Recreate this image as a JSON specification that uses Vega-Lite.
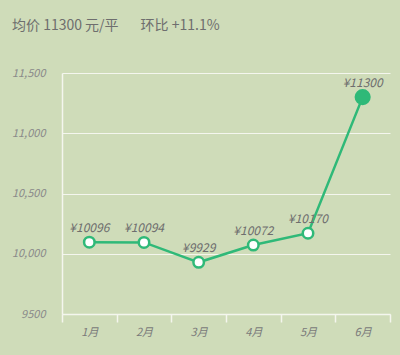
{
  "$schema": "https://vega.github.io/schema/vega-lite/v6.json",
  "autosize": "none",
  "width": 328,
  "height": 241,
  "padding": {"left": 62, "top": 73, "right": 10, "bottom": 41},
  "background": "#cfdcb9",
  "title": {
    "text": "均价 11300 元/平\u00a0\u00a0\u00a0\u00a0\u00a0\u00a0\u00a0环比 +11.1%",
    "anchor": "start",
    "frame": "group",
    "dx": -50,
    "offset": 34,
    "fontSize": 14,
    "fontWeight": "normal",
    "font": "Noto Sans CJK SC",
    "color": "#6e6e6e"
  },
  "config": {
    "view": {"stroke": null},
    "font": "Noto Sans CJK SC"
  },
  "data": {
    "values": [
      {"month": "1月", "price": 10096},
      {"month": "2月", "price": 10094},
      {"month": "3月", "price": 9929},
      {"month": "4月", "price": 10072},
      {"month": "5月", "price": 10170},
      {"month": "6月", "price": 11300}
    ]
  },
  "encoding": {
    "x": {
      "field": "month",
      "type": "ordinal",
      "sort": null,
      "scale": {"paddingInner": 0, "paddingOuter": 0},
      "axis": {
        "title": null,
        "labelAngle": 0,
        "domainColor": "#f4f6ee",
        "domainWidth": 1.5,
        "tickColor": "#f4f6ee",
        "tickWidth": 1.5,
        "tickSize": 8,
        "tickBand": "extent",
        "labelColor": "#7a7a7a",
        "labelFontStyle": "italic",
        "labelFontSize": 11,
        "labelPadding": 4,
        "grid": false
      }
    },
    "y": {
      "field": "price",
      "type": "quantitative",
      "scale": {"domain": [9500, 11500], "zero": false, "nice": false},
      "axis": {
        "title": null,
        "values": [9500, 10000, 10500, 11000, 11500],
        "labelExpr": "datum.value >= 10000 ? format(datum.value, ',') : format(datum.value, 'd')",
        "domainColor": "#f4f6ee",
        "domainWidth": 1.5,
        "ticks": false,
        "gridColor": "#f4f6ee",
        "gridWidth": 1.2,
        "labelColor": "#8a8a8a",
        "labelFontStyle": "italic",
        "labelFontSize": 11,
        "labelPadding": 17
      }
    }
  },
  "layer": [
    {
      "mark": {"type": "line", "color": "#2fb978", "strokeWidth": 2.5},
      "encoding": {}
    },
    {
      "transform": [{"filter": "datum.month != '6月'"}],
      "mark": {"type": "point", "filled": true, "fill": "#ffffff", "stroke": "#2fb978", "strokeWidth": 2.5, "size": 110, "opacity": 1},
      "encoding": {}
    },
    {
      "transform": [{"filter": "datum.month == '6月'"}],
      "mark": {"type": "point", "filled": true, "fill": "#2fb978", "stroke": "#2fb978", "size": 200, "opacity": 1},
      "encoding": {}
    },
    {
      "transform": [{"calculate": "'¥' + datum.price", "as": "label"}],
      "mark": {"type": "text", "baseline": "bottom", "dy": -7, "fontStyle": "italic", "fontSize": 12, "color": "#6e6e6e"},
      "encoding": {
        "text": {"field": "label", "type": "nominal"}
      }
    }
  ]
}
